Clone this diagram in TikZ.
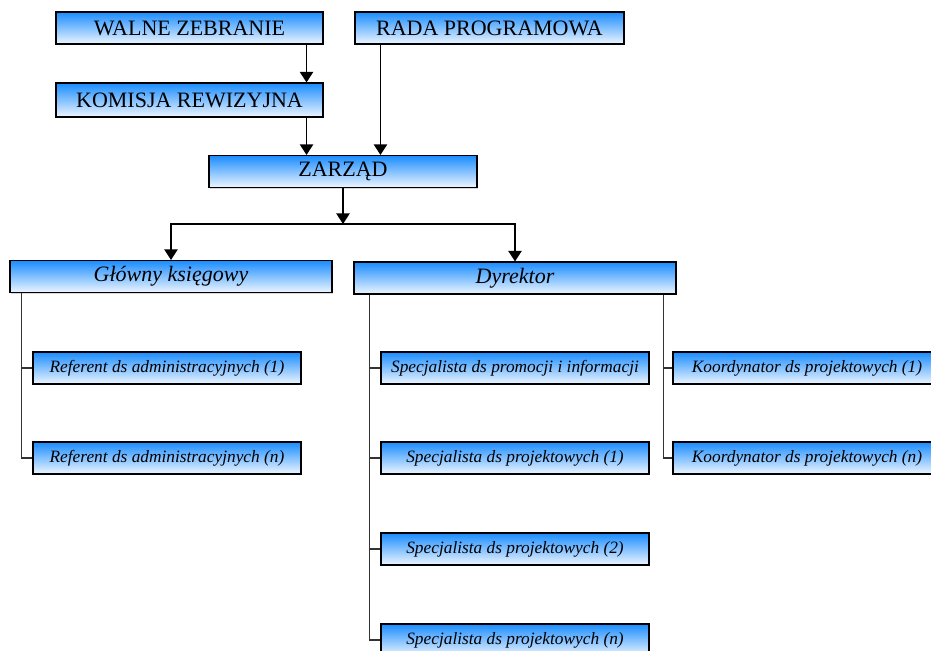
\documentclass[tikz,border=0pt]{standalone}
\usepackage{fontspec}
\setmainfont{Liberation Serif}
\usetikzlibrary{arrows.meta}
\usetikzlibrary{shadows}
\definecolor{hblue}{HTML}{1A8CFF}
\definecolor{lblue}{HTML}{EEF6FF}

\begin{document}
\begin{tikzpicture}[x=0.75pt, y=-0.75pt, >={Triangle[width=10pt,length=8pt]},
        every edge/.style={draw=black, line width=1.3pt},
        box/.style={draw=black, line width=0.8pt, rectangle, inner sep=0pt, top color=hblue, bottom color=lblue,
            drop shadow={shadow xshift=0.8pt, shadow yshift=-0.8pt, fill=black!30}},
        boss/.style={box, minimum height=24pt, font=\fontsize{16.5}{18}\selectfont},
        wing/.style={box, minimum width=241.5pt, minimum height=24pt, font=\fontsize{16.5}{19}\selectfont\itshape},
        staff/.style={box, minimum width=201pt, minimum height=24pt, font=\fontsize{13}{15}\selectfont\itshape},
        branch/.style={draw=black!80, line width=1.2pt}]
        \useasboundingbox (0, 0) rectangle (931, 650);

        \node[boss, minimum width=200.25pt] (walne) at (189.5, 28) {WALNE ZEBRANIE};

        \node[boss, minimum width=201.75pt] (rada) at (489.5, 28) {RADA PROGRAMOWA};

        \node[boss, minimum width=200.25pt, minimum height=25.5pt] (komisja) at (189.5, 100) {KOMISJA REWIZYJNA};

        \node[boss, minimum width=201pt] (zarzad) at (343, 171.5) {ZARZĄD};

        \coordinate (rozdz) at (343, 224);

        \node[wing] (glowny) at (171, 276.5) {Główny księgowy};

        \node[wing] (dyrektor) at (515, 278) {Dyrektor};

        \node[staff] (ref1) at (167, 368) {Referent ds administracyjnych (1)};

        \node[staff] (refn) at (167, 458) {Referent ds administracyjnych (n)};

        \node[staff] (prom) at (515, 368) {Specjalista ds promocji i informacji};

        \node[staff] (spec1) at (515, 458) {Specjalista ds projektowych (1)};

        \node[staff] (spec2) at (515, 549) {Specjalista ds projektowych (2)};

        \node[staff] (specn) at (515, 640) {Specjalista ds projektowych (n)};

        \node[staff] (koord1) at (807, 368) {Koordynator ds projektowych (1)};

        \node[staff] (koordn) at (807, 458) {Koordynator ds projektowych (n)};


        \path [->]([xshift=-12.75pt]walne.south east) edge ([xshift=-12.75pt]walne.south east |- komisja.north);
        \path [->]([xshift=-12.75pt]komisja.south east) edge ([xshift=-12.75pt]komisja.south east |- zarzad.north);
        \path [->]([xshift=19.5pt]rada.south west) edge ([xshift=19.5pt]rada.south west |- zarzad.north);
        \path [->](zarzad.south) edge (rozdz);

        \draw [->, line width=1.3pt](rozdz) -| (glowny.north);
        \draw [->, line width=1.3pt](rozdz) -| (dyrektor.north);

        \draw [branch]([xshift=9pt]glowny.south west) |- (ref1.west);
        \draw [branch]([xshift=9pt]glowny.south west) |- (refn.west);

        \draw [branch]([xshift=12pt]dyrektor.south west) |- (prom.west);
        \draw [branch]([xshift=12pt]dyrektor.south west) |- (spec1.west);
        \draw [branch]([xshift=12pt]dyrektor.south west) |- (spec2.west);
        \draw [branch]([xshift=12pt]dyrektor.south west) |- (specn.west);

        \draw [branch]([xshift=-9.75pt]dyrektor.south east) |- (koord1.west);
        \draw [branch]([xshift=-9.75pt]dyrektor.south east) |- (koordn.west);

    \end{tikzpicture}
\end{document}
